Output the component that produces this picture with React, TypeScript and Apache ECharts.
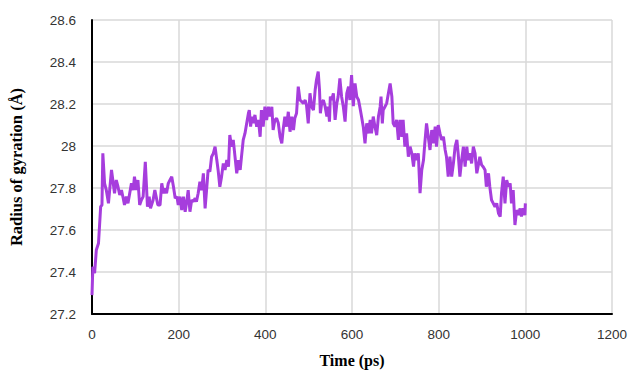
import React, { useEffect, useRef } from "react";
import * as echarts from "echarts";

const times: number[] = [
  0, 2, 6, 10, 15, 20, 23, 25, 29, 33, 38, 45, 48, 52, 56, 60, 64, 68, 72, 75, 79, 83, 91, 95, 98, 102, 106, 110, 114, 118, 123, 128, 132, 135, 141, 145, 148, 152,
  157, 161, 165, 168, 172, 176, 180, 184, 188, 192, 196, 199, 203, 207, 211, 215, 218, 222, 226, 230, 234, 238, 241, 245, 249, 253, 257, 261, 265, 268, 272, 276, 280, 284, 288, 291,
  295, 299, 303, 307, 311, 315, 318, 322, 326, 330, 334, 338, 342, 345, 349, 353, 357, 361, 363, 366, 369, 372, 376, 380, 384, 388, 391, 395, 399, 403, 407, 411, 415, 418, 422, 426, 430, 434, 438, 441,
  445, 449, 453, 457, 461, 465, 468, 472, 476, 480, 484, 488, 492, 495, 499, 503, 507, 511, 515, 518, 522, 525, 527, 530, 534, 538, 542, 545, 548, 550, 553, 557, 561, 565, 568, 572, 576, 580, 584, 588, 592, 595, 599,
  603, 607, 611, 615, 618, 622, 626, 630, 634, 638, 642, 645, 649, 653, 657, 661, 665, 667, 670, 672, 676, 680, 684, 688, 692, 695, 699, 703, 707, 711, 715, 718, 722, 726, 730, 734, 738, 742, 745, 749, 753, 757,
  761, 765, 768, 772, 776, 780, 784, 788, 792, 795, 799, 803, 807, 811, 815, 818, 822, 826, 830, 834, 838, 842, 845, 849, 853, 857, 861, 865, 868, 872, 876, 880, 884, 888, 891, 895, 899, 903, 907, 910,
  915, 918, 922, 926, 930, 934, 938, 942, 945, 949, 953, 957, 961, 965, 968, 972, 976, 980, 984, 988, 991, 995, 999, 1000,
];

const radiusOfGyration: number[] = [
  27.29, 27.425, 27.394, 27.505, 27.537, 27.711, 27.719, 27.965, 27.822, 27.79, 27.727, 27.886, 27.838, 27.775, 27.838, 27.806, 27.767, 27.79, 27.751, 27.719, 27.759, 27.727, 27.822, 27.79, 27.854, 27.79, 27.838, 27.719, 27.743, 27.759, 27.925, 27.711, 27.759, 27.703, 27.743, 27.79, 27.759, 27.719,
  27.719, 27.822, 27.775, 27.798, 27.775, 27.822, 27.838, 27.854, 27.806, 27.751, 27.759, 27.719, 27.759, 27.695, 27.759, 27.687, 27.727, 27.79, 27.687, 27.743, 27.735, 27.751, 27.735, 27.775, 27.83, 27.79, 27.87, 27.703, 27.806, 27.886, 27.878, 27.949, 27.965, 27.997, 27.933, 27.886,
  27.806, 27.854, 27.917, 27.886, 27.933, 27.902, 28.052, 27.997, 28.029, 27.949, 27.87, 27.933, 27.886, 27.949, 28.029, 28.06, 28.108, 28.156, 28.171, 28.092, 28.14, 28.108, 28.148, 28.092, 28.124, 28.044, 28.171, 28.092, 28.187, 28.124, 28.187, 28.14, 28.187, 28.076, 28.124, 28.132, 28.108, 28.044, 28.013, 28.076,
  28.14, 28.092, 28.163, 28.068, 28.14, 28.076, 28.132, 28.156, 28.283, 28.219, 28.211, 28.203, 28.219, 28.195, 28.108, 28.251, 28.187, 28.171, 28.267, 28.314, 28.354, 28.267, 28.156, 28.203, 28.219, 28.187, 28.14, 28.187, 28.116, 28.235, 28.219, 28.251, 28.124, 28.203, 28.235, 28.322, 28.235, 28.187, 28.116, 28.251, 28.283, 28.219, 28.338,
  28.19, 28.298, 28.235, 28.219, 28.187, 28.14, 28.092, 28.013, 28.108, 28.06, 28.124, 28.06, 28.14, 28.092, 28.052, 28.14, 28.187, 28.235, 28.108, 28.171, 28.187, 28.203, 28.251, 28.298, 28.235, 28.108, 28.092, 28.124, 28.029, 28.124, 28.044, 28.124, 27.997, 28.06, 27.949, 27.997, 27.965, 27.902, 27.965, 27.933, 27.965, 27.775,
  27.886, 27.933, 28.013, 28.108, 28.044, 27.981, 28.076, 28.013, 28.092, 27.997, 28.1, 28.06, 28.029, 28.044, 27.981, 27.949, 27.854, 27.949, 27.854, 27.917, 27.997, 28.029, 27.965, 27.854, 27.933, 27.997, 27.902, 27.997, 27.933, 27.965, 27.917, 27.997, 27.965, 27.87, 27.902, 27.949, 27.91, 27.9, 27.886, 27.806,
  27.87, 27.806, 27.743, 27.727, 27.711, 27.727, 27.68, 27.664, 27.775, 27.854, 27.727, 27.838, 27.806, 27.822, 27.727, 27.79, 27.624, 27.695, 27.671, 27.703, 27.664, 27.703, 27.671, 27.727,
];

const yTicks: string[] = ["27.2", "27.4", "27.6", "27.8", "28", "28.2", "28.4", "28.6"];
const xTicks: string[] = ["0", "200", "400", "600", "800", "1000", "1200"];

export default function App() {
  const ref = useRef<HTMLDivElement>(null);
  useEffect(() => {
    if (!ref.current) return;
    const chart = echarts.init(ref.current, undefined, { renderer: "svg" });
    const data = times.map((t, i) => [t, radiusOfGyration[i]]);
    chart.setOption({
      animation: false,
      backgroundColor: "#ffffff",
      grid: { left: 92, right: 20, top: 20, bottom: 61, containLabel: false },
      xAxis: {
        type: "value",
        min: 0,
        max: 1200,
        interval: 200,
        name: "Time (ps)",
        nameLocation: "middle",
        nameGap: 38,
        nameTextStyle: { fontFamily: "Liberation Serif", fontWeight: "bold", fontSize: 16, color: "#000" },
        axisLine: { show: true, onZero: false, lineStyle: { color: "#000", width: 2 } },
        axisTick: { show: false },
        axisLabel: {
          fontFamily: "Liberation Sans",
          fontSize: 13.5,
          color: "#333333",
          margin: 13,
          formatter: (v: number) => xTicks[Math.round(v / 200)] ?? String(v),
        },
        splitLine: { show: true, lineStyle: { color: "#d9d9d9", width: 1.5 } },
      },
      yAxis: {
        type: "value",
        min: 27.2,
        max: 28.6,
        interval: 0.2,
        name: "Radius of gyration (Å)",
        nameLocation: "middle",
        nameGap: 67,
        nameRotate: 90,
        nameTextStyle: { fontFamily: "Liberation Serif", fontWeight: "bold", fontSize: 16.5, color: "#000" },
        axisLine: { show: true, lineStyle: { color: "#000", width: 2 } },
        axisTick: { show: false },
        axisLabel: {
          fontFamily: "Liberation Sans",
          fontSize: 13.5,
          color: "#333333",
          margin: 16,
          formatter: (v: number) => yTicks[Math.round((v - 27.2) / 0.2)] ?? String(v),
        },
        splitLine: { show: true, lineStyle: { color: "#d9d9d9", width: 1.5 } },
      },
      series: [
        {
          type: "line",
          data,
          showSymbol: false,
          symbol: "none",
          lineStyle: { color: "#a63ddd", width: 3 },
        },
      ],
    });
    return () => chart.dispose();
  }, []);
  return <div ref={ref} style={{ width: 632, height: 375, position: "absolute", left: 0, top: 0 }} />;
}
